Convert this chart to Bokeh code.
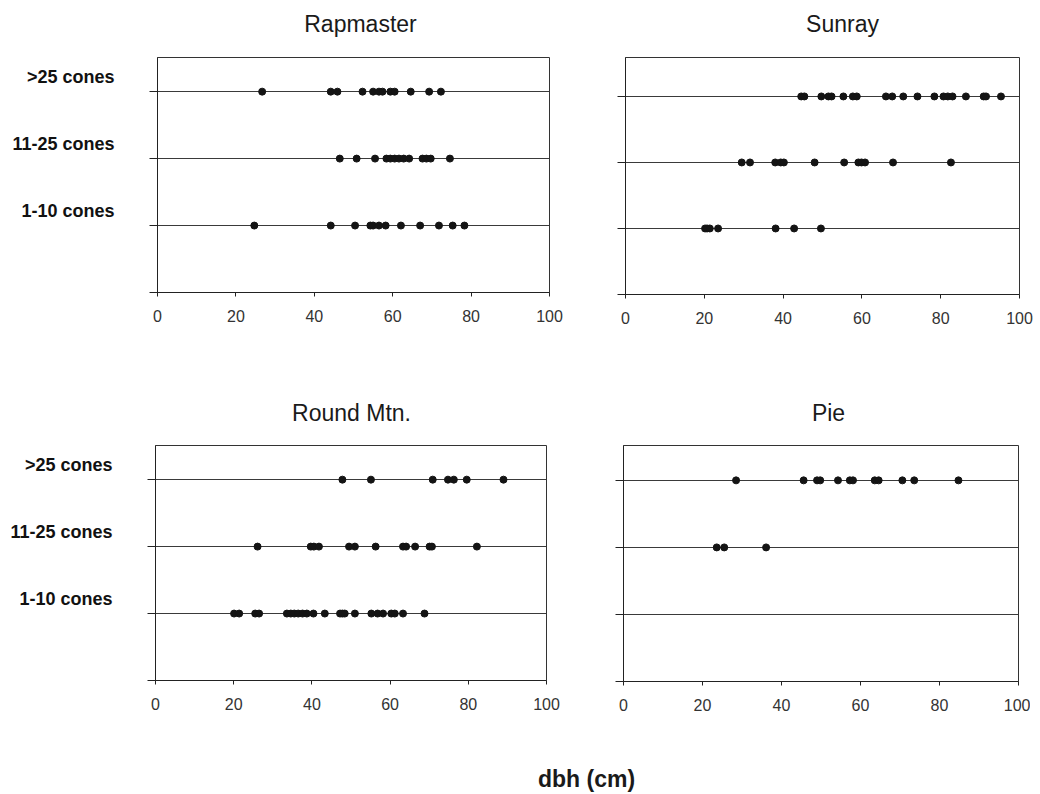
from bokeh.plotting import figure
from bokeh.models import FixedTicker, LinearAxis, Range1d, ColumnDataSource
from bokeh.layouts import column, row
from bokeh.embed import file_html
from bokeh.resources import INLINE
from bokeh.core.properties import value

categories = ["1-10 cones", "11-25 cones", ">25 cones"]
x_ticks = [0, 20, 40, 60, 80, 100]
x_label = "dbh (cm)"
titles_top = ["Rapmaster", "Sunray"]
titles_bottom = ["Round Mtn.", "Pie"]

# dbh values (cm) per site and cone class
rap_1_10 = [24.7, 44.2, 50.4, 54.3, 55.0, 56.5, 58.2, 62.1, 67.0, 71.8, 75.3, 78.3]
rap_11_25 = [46.5, 50.8, 55.5, 58.4, 59.4, 60.5, 61.6, 62.8, 64.2, 67.6, 68.6, 69.7, 74.6]
rap_gt25 = [26.7, 44.2, 45.9, 52.3, 55.0, 56.5, 57.4, 59.4, 60.5, 64.6, 69.3, 72.3]

sun_1_10 = [20.2, 20.7, 21.4, 23.5, 38.1, 42.8, 49.6]
sun_11_25 = [29.5, 31.6, 38.0, 39.4, 40.2, 48.0, 55.5, 59.1, 59.9, 60.8, 67.9, 82.6]
sun_gt25 = [44.6, 45.4, 49.7, 51.5, 52.3, 55.3, 57.7, 58.7, 66.1, 67.7, 70.5, 74.1,
            78.4, 80.7, 81.8, 83.0, 86.4, 90.9, 91.5, 95.3]

rnd_1_10 = [20.1, 21.4, 25.5, 26.5, 33.6, 34.6, 35.5, 36.5, 37.6, 38.7, 40.4, 43.3,
            47.2, 47.8, 48.4, 51.0, 55.2, 56.8, 58.2, 60.3, 61.2, 63.3, 68.8]
rnd_11_25 = [26.1, 39.7, 40.5, 41.8, 49.5, 51.0, 56.3, 63.3, 64.1, 66.4, 70.1, 70.7, 82.2]
rnd_gt25 = [47.8, 55.1, 70.9, 74.8, 76.3, 79.6, 89.0]

pie_1_10 = []
pie_11_25 = [23.6, 25.5, 36.1]
pie_gt25 = [28.5, 45.6, 49.0, 49.8, 54.3, 57.3, 58.1, 63.6, 64.6, 70.6, 73.6, 84.8]

FONT = "Liberation Sans"
W = 1033


def panel(series, show_labels, fw, fh, ytop, mbl, mbr, mbt, mbb):
    p = figure(frame_width=fw, frame_height=fh, output_backend="svg",
               toolbar_location=None, x_range=Range1d(0, 100),
               y_range=Range1d(0, ytop),
               min_border_left=mbl, min_border_right=mbr,
               min_border_top=mbt, min_border_bottom=mbb)
    p.outline_line_color = "#333333"
    p.outline_line_width = 1
    p.background_fill_color = "white"
    p.border_fill_color = "white"

    xs, ys = [], []
    for i, vals in enumerate(series):
        xs += list(vals)
        ys += [i + 1] * len(vals)
    src = ColumnDataSource(data=dict(x=xs, y=ys))

    p.xgrid.grid_line_color = None
    p.ygrid.ticker = FixedTicker(ticks=[1, 2, 3])
    p.ygrid.grid_line_color = "#3a3a3a"
    p.ygrid.grid_line_width = 1

    p.scatter(x="x", y="y", source=src, size=7, color="#141414")

    xa = p.xaxis[0]
    xa.ticker = FixedTicker(ticks=x_ticks)
    xa.minor_tick_line_color = None
    xa.major_tick_out = 4
    xa.major_tick_in = 0
    xa.axis_line_color = "#222222"
    xa.major_tick_line_color = "#222222"
    xa.major_label_text_font = FONT
    xa.major_label_text_font_size = "16px"
    xa.major_label_text_color = "#333333"
    xa.major_label_standoff = 13

    ya = p.yaxis[0]
    ya.ticker = FixedTicker(ticks=[0, 1, 2, 3])
    ya.minor_tick_line_color = None
    ya.major_tick_out = 8
    ya.major_tick_in = 0
    ya.axis_line_color = "#222222"
    ya.major_tick_line_color = "#222222"
    ya.major_label_text_font_size = "0px"
    ya.major_label_text_color = None
    ya.major_label_standoff = 0

    if show_labels:
        la = LinearAxis(ticker=FixedTicker(ticks=[1.22, 2.22, 3.22]))
        la.major_label_overrides = {1.22: categories[0], 2.22: categories[1],
                                    3.22: categories[2]}
        la.axis_line_color = None
        la.major_tick_line_color = None
        la.minor_tick_line_color = None
        la.major_label_text_font = FONT
        la.major_label_text_font_style = "bold"
        la.major_label_text_font_size = "18px"
        la.major_label_text_color = "#111111"
        la.major_label_standoff = 29
        p.add_layout(la, "left")
    return p


def text_strip(height, xs, ys, texts, size, style):
    f = figure(width=W, height=height, output_backend="svg", toolbar_location=None,
               x_range=Range1d(0, W), y_range=Range1d(height, 0), min_border=0)
    f.axis.visible = False
    f.grid.visible = False
    f.outline_line_color = None
    f.text(x=xs, y=ys, text=texts, text_font=value(FONT), text_font_size=size,
           text_font_style=style, text_align="center", text_baseline="middle",
           text_color="#1a1a1a")
    return f


header1 = text_strip(40, [360, 842], [23, 23], titles_top, "23px", "normal")
tl = panel([rap_1_10, rap_11_25, rap_gt25], True, 392, 235, 3.51, 157, 41, 17, 98)
tr = panel([sun_1_10, sun_11_25, sun_gt25], False, 394, 237, 3.59, 35, 14, 17, 96)
header2 = text_strip(40, [351, 828], [22, 22], titles_bottom, "23px", "normal")
bl = panel([rnd_1_10, rnd_11_25, rnd_gt25], True, 391, 235, 3.51, 155, 44, 15, 40)
br = panel([pie_1_10, pie_11_25, pie_gt25], False, 395, 236, 3.52, 33, 12, 15, 39)
footer = text_strip(72, [586], [58], [x_label], "23px", "bold")

layout = column(header1, row(tl, tr), header2, row(bl, br), footer)
open("out.html", "w").write(file_html(layout, INLINE))
